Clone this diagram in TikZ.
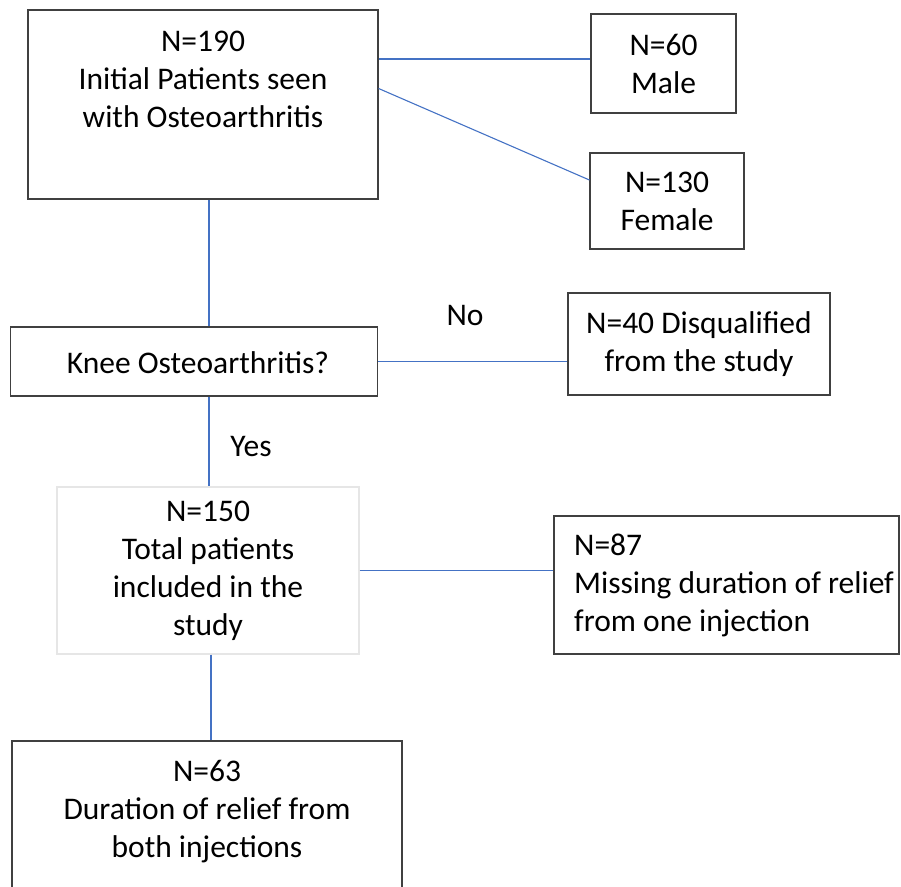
\documentclass[tikz,border=0pt]{standalone}
\usepackage{fontspec}
\setmainfont{Carlito}
\usepackage{xcolor}
\usetikzlibrary{calc}
\definecolor{edge}{HTML}{404040}
\definecolor{faint}{HTML}{E6E6E6}
\definecolor{link}{HTML}{4472C4}
\tikzset{
  box/.style={draw=edge,line width=1.2pt,fill=white,inner sep=0pt},
  txt/.style={align=center,inner sep=0pt,font=\fontsize{31.5}{38}\selectfont},
  wire/.style={draw=link,line width=1.1pt}
}

\begin{document}
\begin{tikzpicture}[x=1pt,y=-1pt]
\useasboundingbox (0,0) rectangle (901,886);
\clip (0,0) rectangle (901,886);
% boxes
\node[box,minimum width=350pt,minimum height=189pt] (init) at (203,104.5) {};
\node[txt,anchor=north] (inittxt) at (203,31) {N=190\\Initial Patients seen\\with Osteoarthritis};
\node[box,txt,minimum width=145pt,minimum height=99pt] (male) at (663.5,63.5) {N=60\\Male};
\node[box,txt,minimum width=154pt,minimum height=96pt] (female) at (667,201) {N=130\\Female};
\node[box,minimum width=367pt,minimum height=69pt] (knee) at (194,361.5) {};
\node[txt] (kneetxt) at (198,363) {Knee Osteoarthritis?};
\node[box,txt,minimum width=262pt,minimum height=102pt] (disq) at (699,344) {N=40 Disqualified\\from the study};
\node[box,draw=faint,txt,minimum width=302pt,minimum height=167pt] (total) at (208,570.5) {N=150\\Total patients\\included in the\\study};
\node[box,minimum width=345pt,minimum height=138pt] (missing) at (726.5,585) {};
\node[txt,align=left,anchor=north west] (missingtxt) at (574,534) {N=87\\Missing duration of relief\\from one injection};
\node[box,minimum width=390pt,minimum height=160pt] (both) at (207,821) {};
\node[txt,anchor=north] (bothtxt) at (207,760) {N=63\\Duration of relief from\\both injections};
% labels
\node[txt] (no) at (465,315) {No};
\node[txt] (yes) at (251,447) {Yes};
% connectors
\coordinate (spine) at (209,0);
\draw[wire] ([yshift=4.5pt]male.west -| init.east) -- ([yshift=4.5pt]male.west);
\draw[wire] ([yshift=16pt]init.east) -- ([yshift=21pt]female.west);
\draw[wire] (init.south -| spine) -- (knee.north -| spine);
\draw[wire] (knee.east) -- (knee.east -| disq.west);
\draw[wire] (knee.south -| spine) -- (total.north -| spine);
\draw[wire] (total.east) -- (total.east -| missing.west);
\draw[wire] ([xshift=2pt]total.south -| spine) -- ([xshift=2pt]both.north -| spine);
\end{tikzpicture}
\end{document}
